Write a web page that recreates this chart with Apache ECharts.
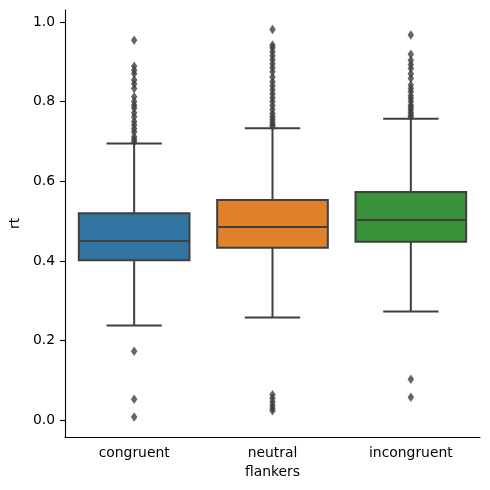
<!DOCTYPE html>
<html>
<head>
<meta charset="utf-8">
<script src="https://cdn.jsdelivr.net/npm/echarts@6/dist/echarts.min.js"></script>
<style>
  html, body { margin: 0; padding: 0; background: #fff; }
  #chart { width: 490px; height: 490px; }
</style>
</head>
<body>
<div id="chart"></div>
<script>
// categories and box stats
const flankers = ['congruent', 'neutral', 'incongruent'];
const whiskerLow = [0.238, 0.258, 0.273];
const q1 = [0.402, 0.433, 0.448];
const median = [0.450, 0.485, 0.503];
const q3 = [0.520, 0.553, 0.573];
const whiskerHigh = [0.695, 0.733, 0.757];

// fliers per category
const congruentFliers = [0.954, 0.889, 0.879, 0.870, 0.854, 0.845, 0.833, 0.812, 0.800, 0.791, 0.784,
    0.772, 0.762, 0.750, 0.741, 0.732, 0.724, 0.712, 0.705, 0.699, 0.173, 0.053, 0.008];
const neutralFliers = [0.981, 0.942, 0.935, 0.925, 0.915, 0.905, 0.895, 0.885, 0.875, 0.862, 0.850,
    0.840, 0.830, 0.820, 0.810, 0.800, 0.790, 0.780, 0.770, 0.762, 0.755, 0.748, 0.742, 0.738,
    0.064, 0.055, 0.046, 0.038, 0.030, 0.024];
const incongruentFliers = [0.967, 0.919, 0.904, 0.893, 0.883, 0.870, 0.858, 0.842, 0.833, 0.825,
    0.815, 0.808, 0.800, 0.791, 0.785, 0.779, 0.772, 0.766, 0.762, 0.103, 0.058];

const yTicks = [0.0, 0.2, 0.4, 0.6, 0.8, 1.0];

const boxColors = ['#3274a1', '#e1812c', '#3a923a'];
const lineColor = '#3f3f3f';
const font = 'DejaVu Sans';

const boxData = flankers.map(function (name, i) {
    return [i, whiskerLow[i], q1[i], median[i], q3[i], whiskerHigh[i]];
});

const flierData = [];
[congruentFliers, neutralFliers, incongruentFliers].forEach(function (arr, i) {
    arr.forEach(function (v) { flierData.push([i, v]); });
});

function renderBox(params, api) {
    var x = api.value(0);
    var lo = api.coord([x, api.value(1)]);
    var b = api.coord([x, api.value(2)]);
    var m = api.coord([x, api.value(3)]);
    var t = api.coord([x, api.value(4)]);
    var hi = api.coord([x, api.value(5)]);
    var bw = api.size([1, 0])[0] * 0.8;
    var cx = lo[0];
    var lineStyle = { stroke: lineColor, lineWidth: 2 };
    return {
        type: 'group',
        children: [
            { type: 'line', shape: { x1: cx, y1: t[1], x2: cx, y2: hi[1] }, style: lineStyle },
            { type: 'line', shape: { x1: cx, y1: b[1], x2: cx, y2: lo[1] }, style: lineStyle },
            { type: 'line', shape: { x1: cx - bw / 4, y1: hi[1], x2: cx + bw / 4, y2: hi[1] }, style: lineStyle },
            { type: 'line', shape: { x1: cx - bw / 4, y1: lo[1], x2: cx + bw / 4, y2: lo[1] }, style: lineStyle },
            {
                type: 'rect',
                shape: { x: cx - bw / 2, y: t[1], width: bw, height: b[1] - t[1] },
                style: { fill: boxColors[params.dataIndex], stroke: lineColor, lineWidth: 2 }
            },
            { type: 'line', shape: { x1: cx - bw / 2, y1: m[1], x2: cx + bw / 2, y2: m[1] }, style: lineStyle }
        ]
    };
}

const chart = echarts.init(document.getElementById('chart'));
var option = {
    animation: false,
    grid: {
        left: 61,
        right: 10,
        top: 10,
        bottom: 53
    },
    xAxis: {
        type: 'category',
        data: flankers,
        name: 'flankers',
        nameLocation: 'middle',
        nameGap: 28,
        nameTextStyle: { fontFamily: font, fontSize: 13.9, color: '#000' },
        axisLine: { onZero: false, lineStyle: { color: '#000', width: 1.1 } },
        axisTick: { alignWithLabel: true, length: 5, lineStyle: { color: '#000', width: 1.1 } },
        axisLabel: { fontFamily: font, fontSize: 13.9, color: '#000', margin: 9 },
        splitLine: { show: false }
    },
    yAxis: {
        type: 'value',
        min: -0.042,
        max: 1.030,
        name: 'rt',
        nameLocation: 'middle',
        nameGap: 40,
        nameTextStyle: { fontFamily: font, fontSize: 13.9, color: '#000' },
        axisLine: { show: true, lineStyle: { color: '#000', width: 1.1 } },
        axisTick: { show: true, length: 5, customValues: yTicks, lineStyle: { color: '#000', width: 1.1 } },
        axisLabel: {
            fontFamily: font, fontSize: 13.9, color: '#000', margin: 10,
            customValues: yTicks,
            formatter: function (v) { return v.toFixed(1); }
        },
        splitLine: { show: false }
    },
    series: [
        {
            type: 'custom',
            renderItem: renderBox,
            data: boxData,
            encode: { x: 0, y: [1, 2, 3, 4, 5] },
            z: 2
        },
        {
            type: 'scatter',
            data: flierData,
            symbol: 'diamond',
            symbolSize: [6.5, 9.5],
            itemStyle: { color: lineColor },
            z: 3
        }
    ]
};
chart.setOption(option);
</script>
</body>
</html>
